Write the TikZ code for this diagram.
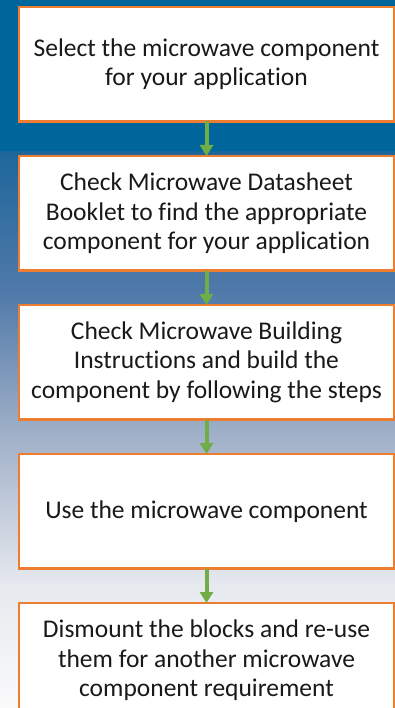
\documentclass[tikz,border=0pt]{standalone}
\usepackage{fontspec}
\setmainfont{Carlito}[Ligatures=NoCommon]
\usetikzlibrary{positioning, arrows.meta}

\definecolor{stepedge}{RGB}{237,125,49}
\definecolor{flowgreen}{RGB}{112,173,71}
\definecolor{deepblue}{RGB}{0,101,155}
\definecolor{fadeA}{RGB}{30,103,155}
\definecolor{fadeB}{RGB}{79,121,169}
\definecolor{fadeC}{RGB}{160,176,200}
\definecolor{fadeD}{RGB}{230,233,238}
\definecolor{fadeE}{RGB}{250,250,251}

% background fade, dark blue on top to near white at the bottom
\pgfdeclareverticalshading{backfade}{100bp}{%
  color(0bp)=(fadeE);
  color(25bp)=(fadeE);
  color(33.7bp)=(fadeD);
  color(44.3bp)=(fadeC);
  color(54.5bp)=(fadeB);
  color(64.3bp)=(fadeA);
  color(64.4bp)=(deepblue);
  color(75bp)=(deepblue);
  color(100bp)=(deepblue)}

\begin{document}
\begin{tikzpicture}[x=1pt, y=1pt,
    stepbox/.style={draw=stepedge, line width=2.2pt, fill=white,
      outer sep=0pt, minimum width=375pt, minimum height=114.5pt,
      align=center, text=black!90,
      font=\fontsize{25.5pt}{29.5pt}\selectfont},
    flow/.style={draw=flowgreen, line width=4pt,
      -{Triangle[width=13pt, length=11pt]}},
    node distance=34.5pt]

  % Draw background
  \useasboundingbox (0,0) rectangle (395,-708);
  \shade[shading=backfade] (0,0) rectangle (395,-708);

  % Steps
  \node[stepbox] (select) at (206.5,-64.25)
    {Select the microwave component\\for your application};
  \node[stepbox, below=of select] (datasheet)
    {Check Microwave Datasheet\\Booklet to find the appropriate\\component for your application};
  \node[stepbox, below=of datasheet] (build)
    {Check Microwave Building\\Instructions and build the\\component by following the steps};
  \node[stepbox, below=of build] (use)
    {Use the microwave component};
  \node[stepbox, below=of use] (reuse)
    {Dismount the blocks and re-use\\them for another microwave\\component requirement};

  % Arrows
  \draw[flow] (select) -- (datasheet);
  \draw[flow] (datasheet) -- (build);
  \draw[flow] (build) -- (use);
  \draw[flow] (use) -- (reuse);

\end{tikzpicture}
\end{document}
